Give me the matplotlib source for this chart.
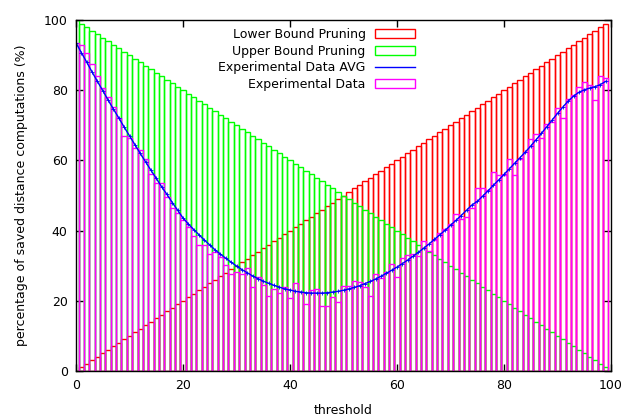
import matplotlib
matplotlib.use("Agg")
import matplotlib.pyplot as plt
from matplotlib.patches import Rectangle
from matplotlib.lines import Line2D

thresholds = list(range(100))

lower_bound = [0, 1, 2, 3, 4, 5, 6, 7, 8, 9, 10, 11, 12, 13, 14, 15, 16, 17, 18, 19,
               20, 21, 22, 23, 24, 25, 26, 27, 28, 29, 30, 31, 32, 33, 34, 35, 36, 37, 38, 39,
               40, 41, 42, 43, 44, 45, 46, 47, 48, 49, 50, 51, 52, 53, 54, 55, 56, 57, 58, 59,
               60, 61, 62, 63, 64, 65, 66, 67, 68, 69, 70, 71, 72, 73, 74, 75, 76, 77, 78, 79,
               80, 81, 82, 83, 84, 85, 86, 87, 88, 89, 90, 91, 92, 93, 94, 95, 96, 97, 98, 99]

upper_bound = [100, 99, 98, 97, 96, 95, 94, 93, 92, 91, 90, 89, 88, 87, 86, 85, 84, 83, 82, 81,
               80, 79, 78, 77, 76, 75, 74, 73, 72, 71, 70, 69, 68, 67, 66, 65, 64, 63, 62, 61,
               60, 59, 58, 57, 56, 55, 54, 53, 52, 51, 50, 49, 48, 47, 46, 45, 44, 43, 42, 41,
               40, 39, 38, 37, 36, 35, 34, 33, 32, 31, 30, 29, 28, 27, 26, 25, 24, 23, 22, 21,
               20, 19, 18, 17, 16, 15, 14, 13, 12, 11, 10, 9, 8, 7, 6, 5, 4, 3, 2, 1]

experimental = [93.5, 92.8, 90.5, 87.5, 84.0, 80.5, 78.2, 75.1, 72.0, 67.0,
                66.3, 63.5, 63.0, 60.3, 56.1, 53.6, 53.6, 49.5, 46.3, 45.0,
                43.0, 41.0, 38.5, 36.0, 35.9, 33.3, 33.9, 32.4, 30.3, 27.6,
                28.1, 27.5, 29.4, 23.8, 26.9, 24.5, 21.4, 23.4, 22.1, 23.8,
                20.9, 25.0, 22.6, 19.1, 23.1, 23.5, 18.5, 18.5, 21.0, 19.7,
                24.2, 24.2, 25.7, 25.3, 24.0, 21.4, 27.5, 26.6, 28.3, 30.4,
                26.8, 32.3, 33.0, 33.2, 32.7, 37.0, 34.2, 37.3, 39.2, 40.5,
                42.0, 44.6, 43.2, 44.0, 46.3, 52.0, 52.0, 51.5, 56.8, 55.8,
                55.8, 60.3, 55.8, 60.3, 62.5, 66.1, 67.5, 66.3, 70.4, 71.0,
                75.0, 72.2, 77.4, 78.6, 80.8, 82.2, 81.5, 77.2, 84.1, 83.4]

experimental_avg = [93.5, 90.7, 88.0, 85.2, 82.5, 79.9, 77.2, 74.6, 72.1, 69.5,
                    67.0, 64.5, 62.0, 59.6, 57.2, 54.9, 52.5, 50.3, 48.0, 45.8,
                    43.6, 41.9, 40.3, 38.8, 37.3, 35.9, 34.5, 33.3, 32.1, 31.0,
                    29.9, 28.9, 28.0, 27.1, 26.3, 25.6, 25.0, 24.4, 23.9, 23.4,
                    23.1, 22.7, 22.5, 22.3, 22.2, 22.2, 22.2, 22.3, 22.5, 22.7,
                    23.0, 23.4, 23.8, 24.3, 24.9, 25.5, 26.2, 27.0, 27.8, 28.7,
                    29.6, 30.6, 31.6, 32.7, 33.8, 35.0, 36.2, 37.5, 38.8, 40.1,
                    41.5, 42.9, 44.3, 45.8, 47.3, 48.3, 49.8, 51.3, 52.9, 54.4,
                    56.0, 57.6, 59.2, 60.8, 62.4, 64.1, 65.9, 67.7, 69.6, 71.5,
                    73.4, 75.2, 76.9, 78.3, 79.4, 80.1, 80.6, 81.0, 81.6, 82.5]

labels = ["Lower Bound Pruning", "Upper Bound Pruning", "Experimental Data AVG", "Experimental Data"]
colors = ["#ff0000", "#00ff00", "#0000ff", "#ff00ff"]

plt.rcParams['font.family'] = ['DejaVu Sans']
fs = 9.0

fig = plt.figure(figsize=(6.22, 4.18), dpi=100)
ax = fig.add_axes([76/622, 1 - 371/418, (611-76)/622, (371-20)/418])

lw = 1.0
ax.bar(thresholds, lower_bound, width=1.0, fill=False, edgecolor=colors[0], linewidth=lw, zorder=2)
ax.bar(thresholds, upper_bound, width=1.0, fill=False, edgecolor=colors[1], linewidth=lw, zorder=3)
ax.bar(thresholds, experimental, width=1.0, fill=False, edgecolor=colors[3], linewidth=lw, zorder=4)
ax.plot(thresholds, experimental_avg, color=colors[2], linewidth=1.0, marker='+',
        markersize=2.5, markeredgewidth=0.6, zorder=5)

ax.set_xlim(0, 100)
ax.set_ylim(0, 100)
ax.set_xticks([0, 20, 40, 60, 80, 100])
ax.set_yticks([0, 20, 40, 60, 80, 100])
ax.tick_params(direction='in', length=5, width=1, top=True, right=True,
               labelsize=fs, colors='black', pad=6)
for s in ax.spines.values():
    s.set_linewidth(1.0)
    s.set_zorder(10)

fig.text(343/622, 1 - 411/418, "threshold", fontsize=fs, ha='center', va='center')
fig.text(22/622, 1 - 195/418, "percentage of saved distance computations (%)", fontsize=fs,
         ha='center', va='center', rotation=90)

handles = [Rectangle((0, 0), 1, 1, fill=False, edgecolor=colors[0], linewidth=1),
           Rectangle((0, 0), 1, 1, fill=False, edgecolor=colors[1], linewidth=1),
           Line2D([0], [0], color=colors[2], linewidth=1),
           Rectangle((0, 0), 1, 1, fill=False, edgecolor=colors[3], linewidth=1)]
leg = ax.legend(handles, labels, loc='upper right', bbox_to_anchor=((415-76)/535, (371-28)/351),
                frameon=False, markerfirst=False, fontsize=fs, handlelength=3.2,
                handleheight=0.75, handletextpad=0.75, labelspacing=0.3,
                borderpad=0, borderaxespad=0)
for t in leg.get_texts():
    t.set_ha('right')
leg.set_zorder(20)

fig.savefig("out.png", dpi=100)
